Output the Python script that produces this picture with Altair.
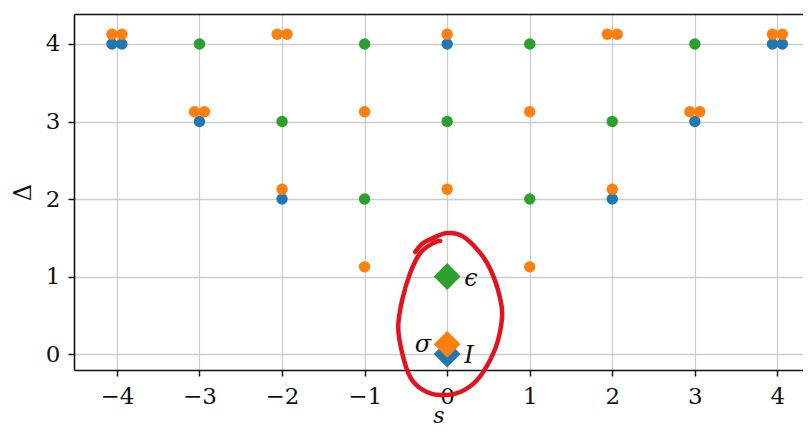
import altair as alt
import pandas as pd

FAMILIES = ["I", "sigma", "epsilon"]
COLORS = ["#1f77b4", "#ff7f0e", "#2ca02c"]

# descendant states: spin s, dimension Delta, degeneracy
id_s = [-2, 2, -3, 3, -4, 4, 0]
id_d = [2, 2, 3, 3, 4, 4, 4]
id_g = [1, 1, 1, 1, 2, 2, 1]

sig_s = [-1, 1, 0, -2, 2, -1, 1, -3, 3, 0, -2, 2, -4, 4]
sig_d = [1.125, 1.125, 2.125, 2.125, 2.125, 3.125, 3.125, 3.125, 3.125,
         4.125, 4.125, 4.125, 4.125, 4.125]
sig_g = [1, 1, 1, 1, 1, 1, 1, 2, 2, 1, 2, 2, 2, 2]

eps_s = [-1, 1, 0, -2, 2, -1, 1, -3, 3]
eps_d = [2, 2, 3, 3, 3, 4, 4, 4, 4]
eps_g = [1, 1, 1, 1, 1, 1, 1, 1, 1]

# primaries
prim_s = [0, 0, 0]
prim_d = [0, 0.125, 1]
prim_f = ["I", "sigma", "epsilon"]
prim_label = ["I", "σ", "ϵ"]
prim_side = ["right", "left", "right"]

# hand-drawn red loop (data coordinates)
loop_s = [-0.387, -0.291, -0.145, 0.0, 0.157, 0.315, 0.484, 0.605, 0.666, 0.617,
          0.521, 0.363, 0.157, -0.085, -0.291, -0.448, -0.545, -0.593, -0.545,
          -0.448, -0.327, -0.169, -0.085]
loop_d = [1.316, 1.432, 1.510, 1.561, 1.535, 1.406, 1.174, 0.865, 0.529, 0.181,
          -0.077, -0.335, -0.490, -0.529, -0.465, -0.297, 0.013, 0.348, 0.697,
          1.045, 1.303, 1.432, 1.458]

SPREAD = 0.12

rows = []
for fam, ss, dd, gg in [("I", id_s, id_d, id_g), ("sigma", sig_s, sig_d, sig_g),
                        ("epsilon", eps_s, eps_d, eps_g)]:
    for s, d, g in zip(ss, dd, gg):
        for k in range(g):
            rows.append({"fam": fam, "s": s + (k - (g - 1) / 2) * SPREAD, "D": d})
pts = pd.DataFrame(rows)

prim = pd.DataFrame({"fam": prim_f, "s": prim_s, "D": prim_d,
                     "label": prim_label, "side": prim_side})
loop = pd.DataFrame({"s": loop_s, "D": loop_d, "idx": list(range(len(loop_s)))})

xscale = alt.Scale(domain=[-4.52, 4.31], nice=False, zero=False)
yscale = alt.Scale(domain=[-0.206, 4.387], nice=False, zero=False)
color = alt.Color("fam:N", scale=alt.Scale(domain=FAMILIES, range=COLORS), legend=None)

ax = dict(labelFont="DejaVu Serif", labelFontSize=23, labelColor="#111",
          tickColor="#111", tickWidth=1.5, tickSize=6,
          domainColor="#111", domainWidth=1.6,
          gridColor="#cccccc", gridWidth=1.3,
          titleFont="DejaVu Serif", titleFontSize=24, titleColor="#111",
          titleFontWeight="normal")

x_bottom = alt.X("s:Q", scale=xscale,
                 axis=alt.Axis(values=list(range(-4, 5)), format="d", labelPadding=9,
                               title="s", titleFontStyle="italic",
                               titleY=52, titleBaseline="alphabetic",
                               **{**ax, "titleFontSize": 22}))
x_top = alt.X("s:Q", scale=xscale,
              axis=alt.Axis(orient="top", labels=False, ticks=False, grid=False,
                            domain=True, title=None, domainColor="#111", domainWidth=1.6))
x_none = alt.X("s:Q", scale=xscale, axis=None)
y_enc = alt.Y("D:Q", scale=yscale,
              axis=alt.Axis(values=[0, 1, 2, 3, 4], format="d", labelPadding=8,
                            title="Δ", titlePadding=10, **ax))

circles = alt.Chart(pts).mark_circle(size=130, opacity=1).encode(
    x=x_bottom, y=y_enc, color=color)

diamonds = alt.Chart(prim).mark_point(shape="diamond", filled=True, size=720, opacity=1).encode(
    x=x_top, y=y_enc, color=color)

txt_right = alt.Chart(prim).transform_filter("datum.side == 'right'").mark_text(
    font="DejaVu Serif", fontStyle="italic", fontSize=24, align="left", baseline="middle",
    dx=17, dy=2, color="#111").encode(x=x_none, y=y_enc, text="label:N")

txt_left = alt.Chart(prim).transform_filter("datum.side == 'left'").mark_text(
    font="DejaVu Serif", fontStyle="italic", fontSize=24, align="right", baseline="middle",
    dx=-16, dy=1, color="#111").encode(x=x_none, y=y_enc, text="label:N")

loop_line = alt.Chart(loop).mark_line(
    color="#e3121b", strokeWidth=4.5, interpolate="cardinal", strokeCap="round").encode(
    x=x_none, y=y_enc, order="idx:Q")

chart = alt.layer(circles, diamonds, txt_right, txt_left, loop_line).resolve_axis(
    x="independent"
).properties(
    width=729, height=356,
    autosize=alt.AutoSizeParams(type="none"),
    padding={"left": 66, "top": 6, "right": 0, "bottom": 57},
    background="white",
).configure_view(stroke=None)

chart.save("out.html", embed_options={"renderer": "svg", "actions": False})
